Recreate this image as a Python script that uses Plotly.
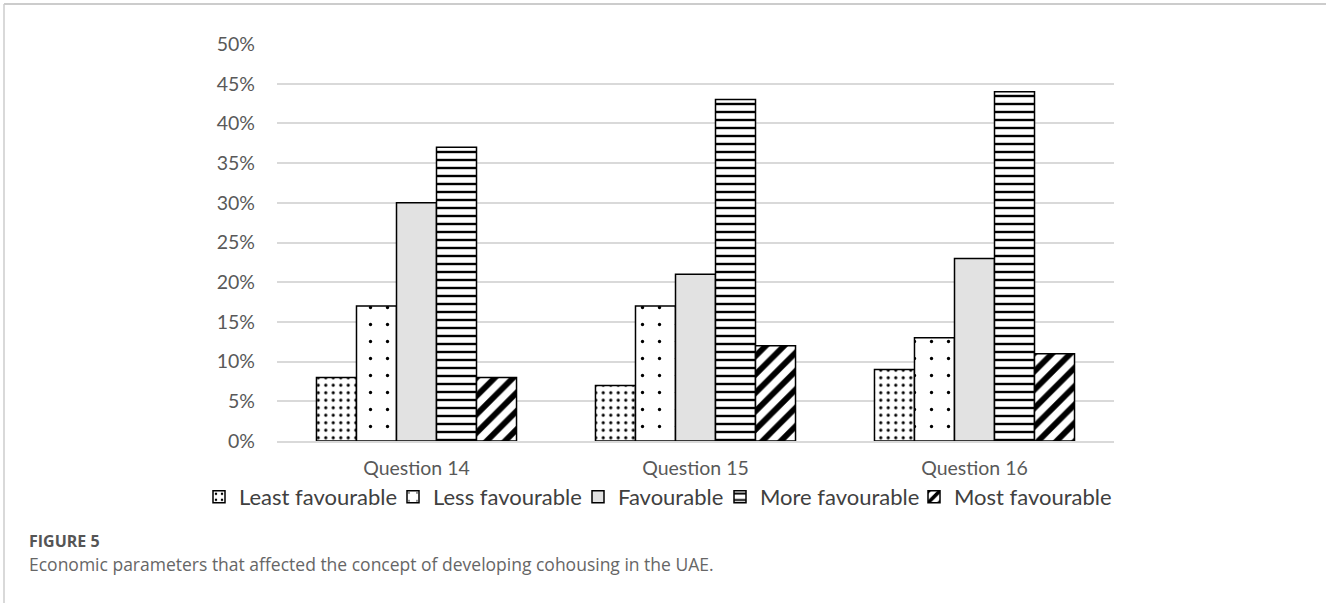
import plotly.graph_objects as go

categories = ["Question 14", "Question 15", "Question 16"]
series_names = ["Least favourable", "Less favourable", "Favourable",
                "More favourable", "Most favourable"]
least_favourable = [0.08, 0.07, 0.09]
less_favourable = [0.17, 0.17, 0.13]
favourable = [0.30, 0.21, 0.23]
more_favourable = [0.37, 0.43, 0.44]
most_favourable = [0.08, 0.12, 0.11]
y_ticks = [i / 100 for i in range(0, 55, 5)]

values = [least_favourable, less_favourable, favourable, more_favourable, most_favourable]


def pattern(shape, size, solidity):
    return dict(shape=shape, size=size, solidity=solidity, fgcolor="black",
                fgopacity=1, bgcolor="white", fillmode="overlay")


# fill style per series: (bar colour, pattern)
styles = [
    ("white", pattern(".", 7.5, 0.14)),
    ("white", pattern(".", 17, 0.03)),
    ("#e2e2e2", None),
    ("white", pattern("-", 8, 0.3)),
    ("white", pattern("/", 13, 0.45)),
]

W, H = 1326, 603
L, R, T, B = 277, 1114, 44, 441   # plot area in pixels


def px_x(x):
    return (x - L) / (R - L)


def px_y(y):
    return (B - y) / (B - T)


# pixel x where each legend label's text begins, along the bottom row
legend_text_x = [239, 433, 618, 760, 954]
legend_keys = ["legend", "legend2", "legend3", "legend4", "legend5"]

font_main = "Lato, 'Open Sans', sans-serif"
fig = go.Figure()
for name, vals, (col, pat), lg in zip(series_names, values, styles, legend_keys):
    marker = dict(color=col, line=dict(color="black", width=1.5))
    if pat is not None:
        marker["pattern"] = pat
    fig.add_trace(go.Bar(name=name, x=categories, y=vals, marker=marker, legend=lg))

legend_layout = {}
for lg, xt in zip(legend_keys, legend_text_x):
    legend_layout[lg] = dict(
        orientation="h", x=px_x(xt - 40), xanchor="left", y=px_y(497), yanchor="middle",
        font=dict(family=font_main, size=22, color="#404040"), itemwidth=30,
        bgcolor="rgba(0,0,0,0)", borderwidth=0,
    )

fig.update_layout(
    width=W, height=H,
    margin=dict(l=L, r=W - R, t=T, b=H - B, autoexpand=False),
    paper_bgcolor="white", plot_bgcolor="white",
    barmode="group", bargap=0.283, bargroupgap=0,
    font=dict(family=font_main, size=19.5, color="#595959"),
    showlegend=True,
    xaxis=dict(showgrid=False, showline=True, linecolor="#d9d9d9", linewidth=1.5,
               ticks="", ticklabelstandoff=9, tickfont=dict(size=19.5, color="#595959")),
    yaxis=dict(range=[0, 0.5], tickvals=y_ticks, tickformat=".0%",
               showgrid=True, gridcolor="#d9d9d9", gridwidth=1.5,
               zeroline=False, showline=False, ticks="", ticklabelstandoff=21,
               tickfont=dict(size=19.5, color="#595959")),
    shapes=[
        dict(type="line", xref="paper", yref="paper", x0=px_x(4), x1=px_x(W + 5),
             y0=px_y(4), y1=px_y(4), line=dict(color="#cccccc", width=2)),
        dict(type="line", xref="paper", yref="paper", x0=px_x(4), x1=px_x(4),
             y0=px_y(4), y1=px_y(H + 5), line=dict(color="#cccccc", width=1.5)),
    ],
    annotations=[
        dict(text="<b>FIGURE 5</b>", xref="paper", yref="paper", x=px_x(27), y=px_y(541),
             xanchor="left", yanchor="middle", showarrow=False,
             font=dict(family="'Open Sans', sans-serif", size=16, color="#555555")),
        dict(text="Economic parameters that affected the concept of developing cohousing in the UAE.",
             xref="paper", yref="paper", x=px_x(27), y=px_y(564),
             xanchor="left", yanchor="middle", showarrow=False,
             font=dict(family="'Open Sans', sans-serif", size=17.5, color="#666666")),
    ],
    **legend_layout,
)

fig.write_html("out.html")
